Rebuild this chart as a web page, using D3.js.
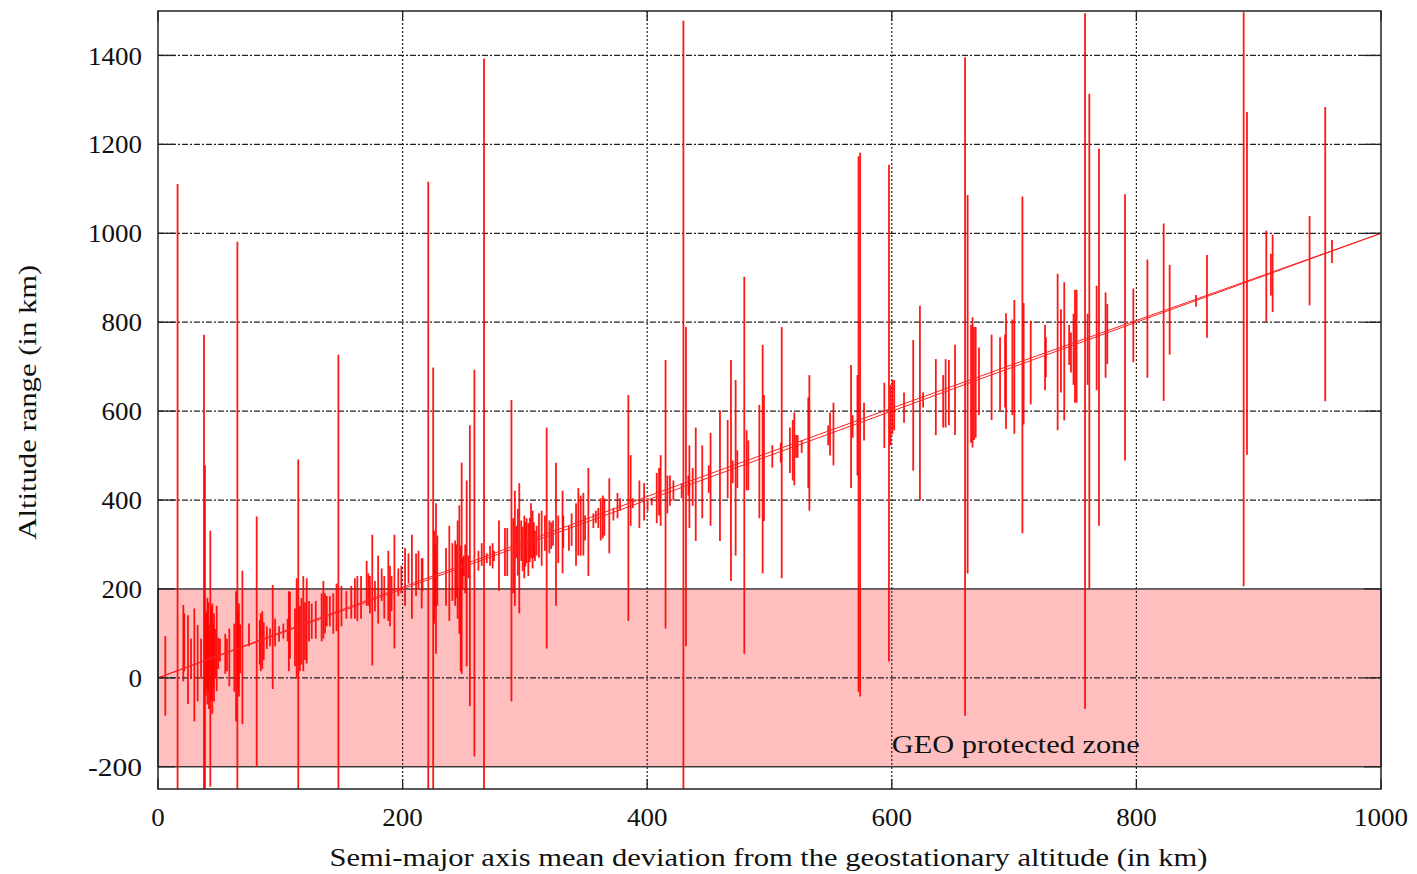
<!DOCTYPE html>
<html lang="en">
<head>
    <meta charset="utf-8">
    <script src="https://d3js.org/d3.v7.min.js"></script>
    <style>
        body { margin: 0; background: #fff; }
        text { font-family: "Liberation Serif", "DejaVu Serif", serif; fill: #111; }
    </style>
</head>
<body>
<div id="my_dataviz"></div>
<script>
    // axis ticks
    var xTicks = [0, 200, 400, 600, 800, 1000];
    var yTicks = [-200, 0, 200, 400, 600, 800, 1000, 1200, 1400];

    // GEO protected zone band (km)
    var zoneLow = -200, zoneHigh = 200;

    // fitted lines (two almost identical fits)
    var fitLineA = [[0, 0], [1000, 1000]];
    var fitLineB = [[0, 0], [400, 408], [700, 706], [1000, 1000]];

    // altitude range bars: [semi-major axis deviation, min altitude, max altitude]
    var barsNear = [
        [6, -85, 94], [16, -260, 1111], [20.7, -8, 164], [21.5, 15, 145], [24.5, -59, 141],
        [27, -2, 88], [29.7, -98, 156], [32.4, -53, 119], [35.2, -2, 88], [37.6, -260, 772],
        [38.4, -260, 478], [39.2, -40, 150], [39.8, -20, 145], [40.4, -60, 180], [41.1, -30, 170],
        [41.7, -70, 120], [42.8, -245, 331], [43.5, -50, 160], [44.4, -81, 167], [45.1, -20, 120],
        [45.8, -53, 145], [46.8, 0, 110], [48, -30, 162], [49.3, 20, 90], [50.7, 37, 88],
        [55, 9, 99], [56.4, 15, 88], [58.3, -19, 111], [62.4, -31, 122], [63.8, -98, 195],
        [64.9, -260, 981], [65.5, -20, 150], [66.2, -42, 167], [67.2, 10, 120], [69, -104, 241],
        [74.4, 71, 122], [80.7, -200, 363], [83.2, 30, 130], [84, 15, 145], [85.3, 20, 150],
        [86.5, 40, 125], [89, 65, 116], [91.6, 71, 111], [93.8, -25, 209], [95.7, 71, 133],
        [99, 82, 116], [102.5, 88, 122], [106, 82, 133], [107, 15, 195]
    ];
    var barsLow = [
        [107.9, 43, 193], [112, 26, 156], [113.4, -2, 224], [114.7, -260, 491], [116, 15, 162],
        [117.3, 30, 180], [118.8, 15, 229], [120.2, 40, 170], [121.6, 32, 224], [123.5, 82, 173],
        [125.7, 88, 167], [129, 88, 173], [133.8, 82, 190], [135.2, 88, 218], [136.6, 100, 190],
        [138, 116, 184], [140.5, 116, 184], [143.3, 99, 190], [146, 105, 212], [147.5, -260, 727],
        [150, 116, 207], [154, 133, 195], [158, 133, 207], [161, 133, 224], [163, 128, 229],
        [166, 133, 229], [170.6, 162, 263], [172, 162, 235], [173.3, 145, 229], [175.2, 28, 322],
        [177.4, 150, 218], [180, 122, 275], [182.9, 173, 246], [185, 133, 229], [188.3, 128, 286],
        [189.7, 116, 252], [191, 150, 229], [193.3, 66, 322], [196.5, 184, 246], [199, 190, 252],
        [202, 162, 292], [204.8, 212, 280], [207.6, 133, 322], [211, 184, 280], [213, 201, 286],
        [215.6, 156, 269], [216.3, 195, 269]
    ];
    var barsMid = [
        [221, -260, 1116], [225, -260, 698], [225.9, 122, 331], [226.6, 160, 300], [227.3, 54, 393],
        [228.4, 162, 320], [235.5, 162, 292], [238.2, 128, 342], [240.7, 173, 303], [243, 162, 309],
        [244, 180, 300], [245, 133, 354], [246.4, 99, 388], [247.5, 15, 297], [248.3, 9, 484],
        [249.2, 200, 270], [250, 229, 275], [251.2, 190, 300], [252.4, 26, 444], [253.8, 224, 275],
        [255, -64, 568], [258.7, -177, 693], [262, 241, 286], [264.7, 252, 303], [266.6, -260, 1393],
        [268.8, 258, 280], [271.5, 252, 297], [273.6, 246, 303], [274.7, 263, 286], [278.8, 196, 354],
        [283.7, 229, 337], [285.6, 229, 337], [289, -53, 625], [290.4, 190, 359], [291.8, 162, 421],
        [293, 269, 342], [294.2, 230, 380], [295.4, 145, 438], [297, 263, 354], [298.2, 240, 340],
        [299.5, 224, 365], [300.4, 250, 350], [301.4, 258, 359], [302.8, 229, 348], [304, 260, 360],
        [305, 269, 393], [306.3, 246, 376], [307.3, 270, 350], [308.2, 263, 331], [309.6, 275, 342],
        [311.5, 270, 370], [313.7, 252, 376], [316.4, 286, 365], [317.8, 66, 563], [320, 280, 354],
        [321.5, 290, 350], [323, 297, 354], [325.4, 162, 484], [327.3, 258, 365], [330.8, 235, 421]
    ];
    var barsHigh = [
        [331.4, 292, 365], [336, 286, 342], [338.2, 297, 370], [341.8, 252, 393], [343.7, 275, 427],
        [345.6, 275, 410], [347.8, 275, 416], [349.2, 309, 365], [351.9, 229, 472], [356, 337, 370],
        [358, 348, 376], [360, 337, 382], [362, 309, 404], [363.7, 314, 410], [365, 320, 404],
        [369, 280, 449], [372.4, 354, 382], [375.7, 359, 416], [377.8, 376, 404], [384.6, 128, 636],
        [386.5, 342, 501], [388.2, 382, 404], [393.6, 337, 444], [397.5, 354, 438], [400.3, 376, 404],
        [403.7, 388, 404], [407.8, 348, 461], [409.7, 365, 472], [411, 342, 501], [415, 111, 715],
        [416.5, 370, 455], [418.6, 387, 455], [421.4, 399, 444], [428.2, 404, 438], [429.6, -260, 1478],
        [431.7, 71, 789], [433.7, 410, 455], [434.5, 337, 523], [437.2, 387, 472], [439.7, 308, 563],
        [445, 359, 523], [450.3, 416, 478], [451.8, 342, 551], [459.5, 308, 602], [465.8, 404, 580],
        [468.5, 218, 715], [469.9, 438, 489], [472.3, 275, 670], [473.7, 427, 512], [479.4, 54, 902],
        [481.3, 422, 557], [482.7, 422, 534]
    ];
    var barsFar = [
        [491.7, 359, 614], [494.4, 235, 749], [495.5, 353, 636], [502.3, 473, 523], [509.2, 484, 529],
        [510, 224, 789], [516.7, 461, 563], [519, 444, 580], [520.3, 433, 597], [521.7, 495, 546],
        [523, 495, 546], [526.3, 506, 535], [531.7, 427, 631], [532.6, 376, 681], [548, 523, 568],
        [549.5, 500, 597], [552.3, 478, 619], [566.7, 427, 704], [568, 540, 591], [571.9, 455, 681],
        [572.8, -31, 1173], [574.1, -42, 1181], [577.3, 534, 619], [593.9, 517, 664], [597.7, 37, 1154],
        [599, 523, 659], [600.5, 548, 670], [602, 557, 670], [610, 574, 642], [617.5, 466, 760],
        [623, 399, 837], [625.6, 608, 642], [636, 546, 717], [642, 563, 681], [644, 563, 717],
        [646.7, 568, 715], [651.7, 546, 749], [659.9, -85, 1396], [662, 235, 1086], [664.8, 529, 794],
        [666, 518, 811], [667.2, 535, 789], [668.6, 540, 789], [671.3, 591, 743], [681.6, 580, 772],
        [688.5, 602, 766], [692.6, 608, 772], [693.4, 560, 820], [698.6, 591, 806], [700.2, 549, 850],
        [706.8, 325, 1083], [707.8, 570, 843], [713.6, 615, 803], [725.3, 647, 794], [726, 676, 766],
        [735.6, 557, 909], [738.3, 642, 829], [741, 579, 890], [745, 704, 794], [746.5, 687, 777],
        [748.6, 659, 819], [749.8, 619, 873], [751.1, 619, 873], [758, -70, 1495], [760.1, 659, 819],
        [761.5, 201, 1314], [767.5, 647, 882], [769.4, 342, 1190], [774.8, 675, 867], [776.2, 706, 841],
        [790.7, 489, 1088], [797.5, 710, 876], [809, 675, 941], [822.3, 623, 1022], [827.2, 727, 929],
        [848.7, 835, 861], [857.7, 765, 951], [887.7, 206, 1497], [890.4, 502, 1273], [906.2, 801, 1006],
        [910, 860, 954], [911.4, 823, 997], [941.6, 838, 1039], [954.4, 622, 1284], [959.9, 933, 985]
    ];

    var allBars = barsNear.concat(barsLow, barsMid, barsHigh, barsFar);

    var margin = {top: 11, right: 36, bottom: 85, left: 158},
        width = 1417 - margin.left - margin.right,
        height = 874 - margin.top - margin.bottom;

    var svg = d3.select("#my_dataviz")
        .append("svg")
        .attr("width", 1417)
        .attr("height", 874)
        .append("g")
        .attr("transform", "translate(" + margin.left + "," + margin.top + ")");

    var x = d3.scaleLinear().domain([0, 1000]).range([0, width]);
    var y = d3.scaleLinear().domain([-250, 1500]).range([height, 0]);

    svg.append("clipPath").attr("id", "plotclip")
        .append("rect").attr("width", width).attr("height", height);

    // pink protected zone
    svg.append("rect")
        .attr("x", 0)
        .attr("y", y(zoneHigh))
        .attr("width", width)
        .attr("height", y(zoneLow) - y(zoneHigh))
        .style("fill", "#ffbfbf")
        .style("stroke", "#222")
        .style("stroke-width", 1.3);

    // horizontal grid, dashed
    svg.selectAll(".hgrid")
        .data(yTicks.filter(function (d) { return d !== zoneLow && d !== zoneHigh; }))
        .enter().append("line")
        .attr("class", "hgrid")
        .attr("x1", 0).attr("x2", width)
        .attr("y1", function (d) { return y(d); })
        .attr("y2", function (d) { return y(d); })
        .style("stroke", "#222")
        .style("stroke-width", 1.2)
        .style("stroke-dasharray", "6,2,2,2");

    // vertical grid, dotted
    svg.selectAll(".vgrid")
        .data(xTicks.slice(1, -1))
        .enter().append("line")
        .attr("class", "vgrid")
        .attr("y1", 0).attr("y2", height)
        .attr("x1", function (d) { return x(d); })
        .attr("x2", function (d) { return x(d); })
        .style("stroke", "#222")
        .style("stroke-width", 1.2)
        .style("stroke-dasharray", "2,2");

    // error bars
    svg.append("g")
        .attr("clip-path", "url(#plotclip)")
        .selectAll(".bar")
        .data(allBars)
        .enter().append("line")
        .attr("class", "bar")
        .attr("x1", function (d) { return x(d[0]); })
        .attr("x2", function (d) { return x(d[0]); })
        .attr("y1", function (d) { return y(d[1]); })
        .attr("y2", function (d) { return y(d[2]); })
        .style("stroke", "#ff0000")
        .style("stroke-width", 1.8)
        .style("opacity", 0.9);

    // fitted lines
    var line = d3.line()
        .x(function (d) { return x(d[0]); })
        .y(function (d) { return y(d[1]); });
    [fitLineA, fitLineB].forEach(function (l) {
        svg.append("path")
            .attr("d", line(l))
            .style("fill", "none")
            .style("stroke", "#ff2020")
            .style("stroke-width", 1);
    });

    // ticks on all four sides
    var tl = 17, tb = 10;
    yTicks.forEach(function (d) {
        svg.append("line").attr("x1", 0).attr("x2", tl).attr("y1", y(d)).attr("y2", y(d))
            .style("stroke", "#222").style("stroke-width", 1.3);
        svg.append("line").attr("x1", width - tl).attr("x2", width).attr("y1", y(d)).attr("y2", y(d))
            .style("stroke", "#222").style("stroke-width", 1.3);
    });
    xTicks.forEach(function (d) {
        svg.append("line").attr("x1", x(d)).attr("x2", x(d)).attr("y1", height).attr("y2", height - tb)
            .style("stroke", "#222").style("stroke-width", 1.3);
        svg.append("line").attr("x1", x(d)).attr("x2", x(d)).attr("y1", 0).attr("y2", tb)
            .style("stroke", "#222").style("stroke-width", 1.3);
    });

    // frame
    svg.append("rect")
        .attr("width", width).attr("height", height)
        .style("fill", "none")
        .style("stroke", "#222")
        .style("stroke-width", 1.5);

    // tick labels
    svg.selectAll(".ylab")
        .data(yTicks)
        .enter().append("text")
        .attr("x", -16)
        .attr("y", function (d) { return y(d); })
        .attr("dy", "0.35em")
        .attr("text-anchor", "end")
        .attr("textLength", function (d) { return String(d).length * 13.5; })
        .attr("lengthAdjust", "spacingAndGlyphs")
        .style("font-size", "26px")
        .text(function (d) { return d; });

    svg.selectAll(".xlab")
        .data(xTicks)
        .enter().append("text")
        .attr("x", function (d) { return x(d); })
        .attr("y", height + 37)
        .attr("text-anchor", "middle")
        .attr("textLength", function (d) { return String(d).length * 13.5; })
        .attr("lengthAdjust", "spacingAndGlyphs")
        .style("font-size", "26px")
        .text(function (d) { return d; });

    // zone label
    svg.append("text")
        .attr("x", x(600))
        .attr("y", y(-150))
        .attr("dy", "0.35em")
        .attr("textLength", 248)
        .attr("lengthAdjust", "spacingAndGlyphs")
        .style("font-size", "25px")
        .text("GEO protected zone");

    // axis titles
    svg.append("text")
        .attr("x", x(500) - 1)
        .attr("y", height + 77)
        .attr("text-anchor", "middle")
        .attr("textLength", 878)
        .attr("lengthAdjust", "spacingAndGlyphs")
        .style("font-size", "25px")
        .text("Semi-major axis mean deviation from the geostationary altitude (in km)");

    svg.append("text")
        .attr("transform", "translate(" + (-122) + "," + y(620) + ") rotate(-90)")
        .attr("text-anchor", "middle")
        .attr("textLength", 275)
        .attr("lengthAdjust", "spacingAndGlyphs")
        .style("font-size", "25px")
        .text("Altitude range (in km)");
</script>
</body>
</html>
